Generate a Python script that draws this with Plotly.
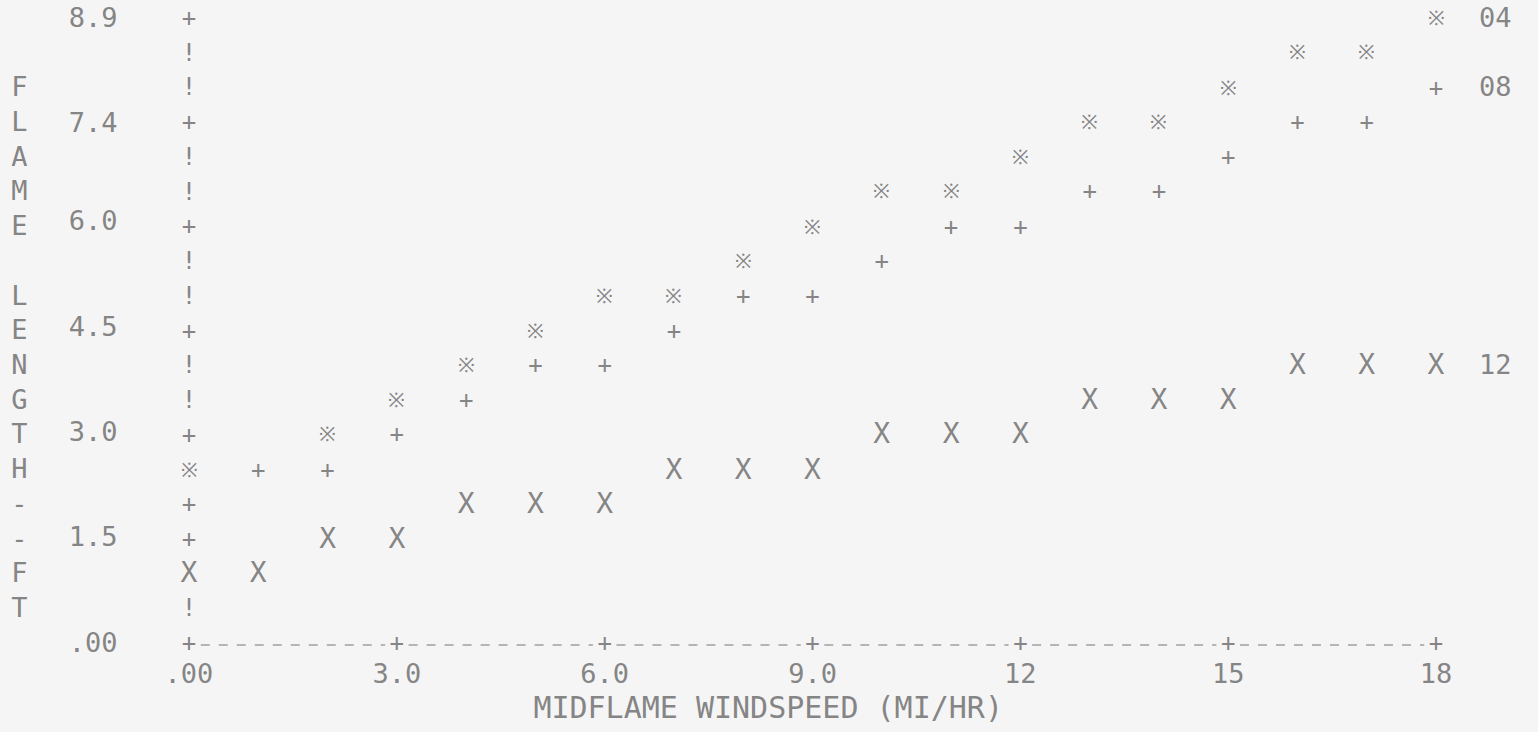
import plotly.graph_objects as go

# ---------------- data ----------------
windspeed_mph = [0, 1, 2, 3, 4, 5, 6, 7, 8, 9, 10, 11, 12, 13, 14, 15, 16, 17, 18]

# flame length (ft) for fuel moisture 04 % (symbol ※); value at 1 mph is hidden under a '+'
flame_04 = [2.47, None, 2.97, 3.46, 3.96, 4.45, 4.94, 4.94, 5.44, 5.93,
            6.43, 6.43, 6.92, 7.42, 7.42, 7.91, 8.41, 8.41, 8.90]
# fuel moisture 08 % (symbol +)
flame_08 = [1.98, 2.47, 2.47, 2.97, 3.46, 3.96, 3.96, 4.45, 4.94, 4.94,
            5.44, 5.93, 5.93, 6.43, 6.43, 6.92, 7.42, 7.42, 7.91]
# fuel moisture 12 % (symbol X)
flame_12 = [0.99, 0.99, 1.48, 1.48, 1.98, 1.98, 1.98, 2.47, 2.47, 2.47,
            2.97, 2.97, 2.97, 3.46, 3.46, 3.46, 3.96, 3.96, 3.96]

series_names = ["04", "08", "12"]
series_symbols = ["※", "+", "X"]

x_tick_values = [0, 3, 6, 9, 12, 15, 18]
x_tick_labels = [".00", "3.0", "6.0", "9.0", "12", "15", "18"]
y_tick_values = [8.9, 7.4, 6.0, 4.5, 3.0, 1.5, 0.0]
y_tick_labels = ["8.9", "7.4", "6.0", "4.5", "3.0", "1.5", ".00"]

y_title = "FLAME LENGTH--FT"
x_title = "MIDFLAME WINDSPEED (MI/HR)"

# ---------------- style ----------------
BG = "#f6f5f6"
INK = "#858585"
FONT = "DejaVu Sans Mono"
LBL = 27
Y_MAX = 8.9
N_ROWS = 18
row_step = Y_MAX / N_ROWS

fig = go.Figure()

# baseline (x axis) drawn as dashes between the '+' ticks
bx, by = [], []
for a, b in zip(x_tick_values[:-1], x_tick_values[1:]):
    bx += [a + 0.17, b - 0.17, None]
    by += [0, 0, None]
fig.add_trace(go.Scatter(x=bx, y=by, mode="lines", hoverinfo="skip",
                         line=dict(color="#a0a0a0", width=1.3, dash="9px,9px"),
                         showlegend=False, cliponaxis=False))

# '+' tick glyphs on x axis
fig.add_trace(go.Scatter(x=x_tick_values, y=[0] * len(x_tick_values), mode="text",
                         text=["+"] * len(x_tick_values),
                         textfont=dict(family=FONT, size=24, color=INK),
                         hoverinfo="skip", showlegend=False, cliponaxis=False))

# y axis column: '+' at tick rows, '!' elsewhere (unless a data point is printed there)
first_vals = [s[0] for s in (flame_04, flame_08, flame_12) if s[0] is not None]
ax_y, ax_t = [], []
for r in range(0, N_ROWS):
    v = Y_MAX * (N_ROWS - r) / N_ROWS
    if r % 3 == 0:
        ax_y.append(v); ax_t.append("+")
    elif any(abs(v - f) < row_step / 2 for f in first_vals):
        continue
    else:
        ax_y.append(v); ax_t.append("!")
fig.add_trace(go.Scatter(x=[0] * len(ax_y), y=ax_y, mode="text", text=ax_t,
                         textfont=dict(family=FONT, size=24, color=INK),
                         hoverinfo="skip", showlegend=False, cliponaxis=False))

# y tick labels
fig.add_trace(go.Scatter(x=[-1.03] * len(y_tick_values), y=y_tick_values, mode="text",
                         text=y_tick_labels, textposition="middle left",
                         textfont=dict(family=FONT, size=LBL, color=INK),
                         hoverinfo="skip", showlegend=False, cliponaxis=False))

# x tick labels
fig.add_trace(go.Scatter(x=x_tick_values, y=[-0.45] * len(x_tick_values), mode="text",
                         text=x_tick_labels,
                         textfont=dict(family=FONT, size=LBL, color=INK),
                         hoverinfo="skip", showlegend=False, cliponaxis=False))

# vertical y title, one character per print row (rows 2..17)
title_y = [Y_MAX * (N_ROWS - (2 + i)) / N_ROWS for i in range(len(y_title))]
fig.add_trace(go.Scatter(x=[-2.45] * len(y_title), y=title_y, mode="text",
                         text=list(y_title),
                         textfont=dict(family=FONT, size=LBL, color=INK),
                         hoverinfo="skip", showlegend=False, cliponaxis=False))

# x title
fig.add_trace(go.Scatter(x=[8.36], y=[-0.93], mode="text", text=[x_title],
                         textfont=dict(family=FONT, size=30, color=INK),
                         hoverinfo="skip", showlegend=False, cliponaxis=False))

# data series (printed as symbols)
sym_sizes = {"※": 20, "+": 24, "X": 28}
for name, sym, vals in zip(series_names, series_symbols, (flame_04, flame_08, flame_12)):
    fig.add_trace(go.Scatter(x=windspeed_mph, y=vals, mode="text", text=[sym] * len(vals),
                             textfont=dict(family=FONT, size=sym_sizes[sym], color=INK),
                             name=name, showlegend=False, cliponaxis=False))
    last_x = windspeed_mph[-1]
    last_y = vals[-1]
    fig.add_trace(go.Scatter(x=[last_x + 0.62], y=[last_y], mode="text", text=[name],
                             textposition="middle right",
                             textfont=dict(family=FONT, size=LBL, color=INK),
                             hoverinfo="skip", showlegend=False, cliponaxis=False))

# pixel mapping: 0 mph -> x=189px, 69.28 px/mph ; 0 ft -> y=645px, 8.9 ft -> y=20px
px_per_ft = (645 - 20) / Y_MAX
x0 = -189 / 69.28
x1 = x0 + 1538 / 69.28
y1 = 645 / px_per_ft
y0 = y1 - 732 / px_per_ft

fig.update_layout(
    width=1538, height=732,
    margin=dict(l=0, r=0, t=0, b=0),
    paper_bgcolor=BG, plot_bgcolor=BG,
    showlegend=False,
    xaxis=dict(range=[x0, x1], visible=False, fixedrange=True),
    yaxis=dict(range=[y0, y1], visible=False, fixedrange=True),
)

fig.write_html("out.html", config={"displayModeBar": False},
               post_script="document.body.style.margin='0';document.body.style.overflow='hidden';")
